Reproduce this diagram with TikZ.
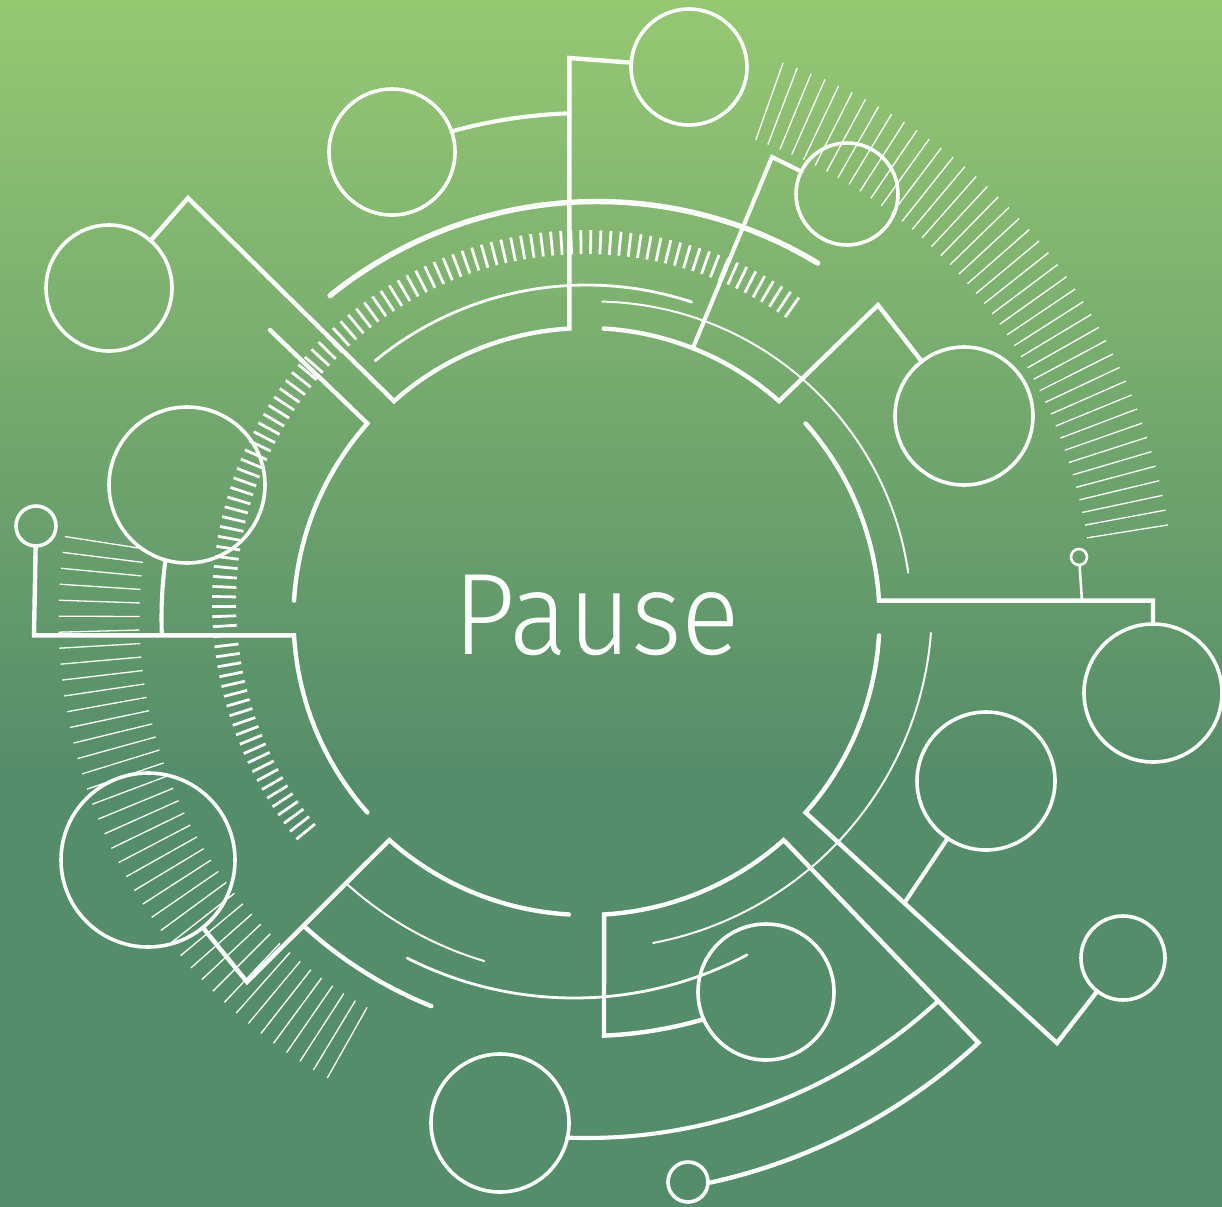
\documentclass[tikz,border=0pt]{standalone}
\usepackage{fontspec}
\IfFontExistsTF{Fira Sans Light}{\newfontfamily\pausefont{Fira Sans Light}}{\newfontfamily\pausefont{Open Sans}}
\usetikzlibrary{calc}
\definecolor{bgtop}{RGB}{150,200,114}
\definecolor{bgbot}{RGB}{84,141,105}
\pgfdeclareverticalshading{bgshade}{100bp}{color(0bp)=(bgbot); color(43bp)=(bgbot); color(75bp)=(bgtop); color(100bp)=(bgtop)}
\begin{document}
\begin{tikzpicture}[x=0.5pt,y=-0.5pt,line cap=round,line join=miter,
  ring/.style={white,line width=2.2pt},
  conn/.style={white,line width=2.05pt},
  circ/.style={circle,draw=white,line width=1.8pt,inner sep=0pt,outer sep=0pt},
  thinarc/.style={white,line width=1pt},
  medarc/.style={white,line width=1.4pt},
  heavy/.style={white,line width=2.7pt},
  tickA/.style={white,line width=1.4pt,line cap=butt},
  tickB/.style={white,line width=0.65pt,line cap=butt},
  stem/.style={white,line width=1.3pt}]
\useasboundingbox (0,0) rectangle (1222,1206);
\shade[shading=bgshade] (0,0) rectangle (1222,1206);
\coordinate (C) at (586.5,618);
\coordinate (CT) at (585,603);
\coordinate (CH) at (597,627.5);
\coordinate (CU) at (595,618);
\coordinate (CL) at (589.5,606.4);
\coordinate (CB) at (574,629.4);

% tick rings
\foreach \i in {0,...,106}{\draw[tickA] ($(CT)+({140.7+1.55*\i}:349)$) -- ($(CT)+({140.7+1.55*\i}:373)$);}
\foreach \i in {0,...,42}{\draw[tickB] ($(C)+({289.5+1.462*\i}:507)$) -- ($(C)+({289.5+1.462*\i}:589)$);}
\foreach \i in {0,...,40}{\draw[tickB] ($(C)+({119.4+1.737*\i}:447)$) -- ($(C)+({119.4+1.737*\i}:528)$);}

% circles
\node[circ,minimum size=58pt] (ntop) at (689,67) {};
\node[circ,minimum size=63pt] (ntm) at (392,152) {};
\node[circ,minimum size=63pt] (ntl) at (109,288) {};
\node[circ,minimum size=78pt] (nml) at (187,485) {};
\node[circ,minimum size=20pt] (nsl) at (36,526) {};
\node[circ,minimum size=87pt] (nbl) at (148,860) {};
\node[circ,minimum size=69pt] (nb1) at (500,1123) {};
\node[circ,minimum size=20pt] (nbs) at (688,1182) {};
\node[circ,minimum size=68pt] (nb2) at (766,992) {};
\node[circ,minimum size=42pt] (nbr2) at (1123,958) {};
\node[circ,minimum size=69pt] (nbr1) at (986,781) {};
\node[circ,minimum size=69pt] (nr) at (1153,693) {};
\node[circ,minimum size=8pt,line width=1.3pt] (nrs) at (1079,557) {};
\node[circ,minimum size=69pt] (ntr) at (964,416) {};
\node[circ,minimum size=51pt] (nsm) at (847,194) {};

% free arcs
\draw[heavy] ($(CH)+(231.2:426)$) arc[start angle=231.2,end angle=301.2,radius=426];
\draw[medarc] ($(C)+(230.6:333)$) arc[start angle=230.6,end angle=288.4,radius=333];
\draw[thinarc] ($(CU)+(271.3:316.5)$) arc[start angle=271.3,end angle=351.8,radius=316.5];
\draw[thinarc] ($(CL)+(4.45:342.5)$) arc[start angle=4.45,end angle=79.3,radius=342.5];
\draw[medarc] ($(CB)+(116.9:368.6)$) arc[start angle=116.9,end angle=62,radius=368.6];
\draw[ring] ($(C)+(132.6:418)$) arc[start angle=132.6,end angle=111.8,radius=418];
\draw[thinarc] ($(C)+(132.2:358)$) arc[start angle=132.2,end angle=106.6,radius=358];
\draw[conn] ($(C)+(254.5:505)$) arc[start angle=254.5,end angle=268.05,radius=505];
\draw[conn] ($(C)+(92.1:520)$) arc[start angle=92.1,end angle=47.6,radius=520];

% inner ring with its connectors
\draw[ring] ($(C)+(3.4:293)$) arc[start angle=3.4,end angle=41.6,radius=293] -- (1057,1043) -- (nbr2);
\draw[conn] (905,902) -- (nbr1);
\draw[ring] (nbs) -- ($(C)+(77.6:578)$) arc[start angle=77.6,end angle=47.3,radius=578] -- ($(C)+(48.4:297)$) arc[start angle=48.4,end angle=86.6,radius=297] -- ($(C)+(87.6:418)$) arc[start angle=87.6,end angle=73.8,radius=418];
\draw[ring] ($(C)+(93.4:297)$) arc[start angle=93.4,end angle=131.6,radius=297] -- (247,982) -- (nbl);
\draw[ring] ($(C)+(138.4:293)$) arc[start angle=138.4,end angle=176.6,radius=293] -- (34,635.4) -- (nsl);
\draw[conn] ($(C)+(177.7:425)$) arc[start angle=177.7,end angle=187.8,radius=425];
\draw[ring] ($(C)+(183.4:293)$) arc[start angle=183.4,end angle=221.6,radius=293] -- (270,330);
\draw[ring] (ntl) -- (188,198) -- ($(C)+(228.4:290)$) arc[start angle=228.4,end angle=266.6,radius=290] -- (569.3,58) -- (ntop);
\draw[ring] ($(C)+(273.4:290)$) arc[start angle=273.4,end angle=311.6,radius=290] -- (878,305) -- (ntr);
\draw[conn] ($(C)+(291.5:290)$) -- (772,157) -- (nsm);
\draw[ring] ($(C)+(318.4:293)$) arc[start angle=318.4,end angle=356.6,radius=293] -- (1153,600.6) -- (nr);
\draw[stem] (1082,600.6) -- (nrs);

% title
\node[text=white,inner sep=0pt,font=\pausefont\fontsize{58}{60}\selectfont] (title) at (597,615) {\scalebox{0.94}[1]{Pause}};
\end{tikzpicture}
\end{document}
